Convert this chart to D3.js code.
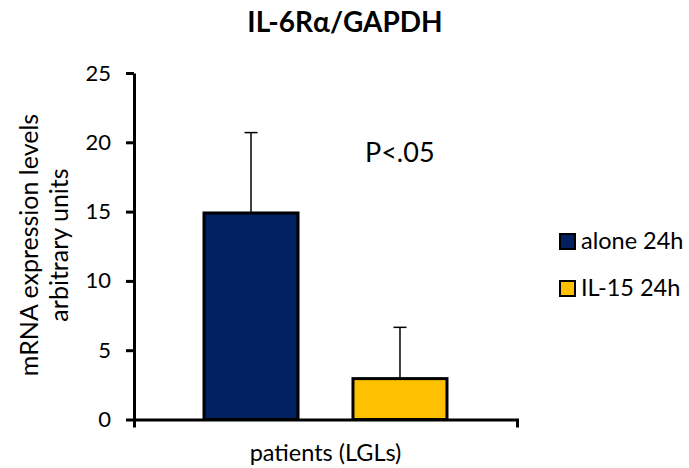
<!DOCTYPE html>
<html>
<head>
<meta charset="utf-8">
<script src="https://cdn.jsdelivr.net/npm/d3@7"></script>
<style>
  html, body { margin: 0; padding: 0; background: #fff; }
  svg { display: block; font-family: Lato, "Open Sans", sans-serif; }
</style>
</head>
<body>
<svg id="chart" width="689" height="468"></svg>
<script>
const title = "IL-6Rα/GAPDH";
const categories = ["patients (LGLs)"];
const seriesNames = ["alone 24h", "IL-15 24h"];
const seriesColors = ["#002060", "#FFC000"];
const meanValues = [14.9, 2.95];
const errorValues = [5.8, 3.7];
const yTicks = [0, 5, 10, 15, 20, 25];
const yLabelLines = ["mRNA expression levels", "arbitrary units"];
const annotation = "P<.05";

const svg = d3.select("#chart");
const plot = { left: 134, right: 517, top: 73, bottom: 419.5 };

const y = d3.scaleLinear().domain([0, 25]).range([plot.bottom, plot.top]);
const xCat = d3.scaleBand().domain(categories).range([plot.left, plot.right]);
const xSer = d3.scaleBand().domain(seriesNames)
  .range([0, xCat.bandwidth()]).paddingInner(0.369).paddingOuter(0.47);

// Title
svg.append("text")
  .attr("x", 345).attr("y", 32)
  .attr("text-anchor", "middle")
  .attr("font-weight", "bold")
  .attr("font-size", 28)
  .text(title);

// Bars
const g = svg.append("g").attr("transform", `translate(${xCat(categories[0])},0)`);
seriesNames.forEach((s, i) => {
  const bx = xSer(s), bw = xSer.bandwidth();
  const cx = bx + bw / 2;
  g.append("line")
    .attr("x1", cx).attr("x2", cx)
    .attr("y1", y(meanValues[i])).attr("y2", y(meanValues[i] + errorValues[i]))
    .attr("stroke", "#000").attr("stroke-width", 1.5);
  g.append("line")
    .attr("x1", cx - 6.5).attr("x2", cx + 6.5)
    .attr("y1", y(meanValues[i] + errorValues[i])).attr("y2", y(meanValues[i] + errorValues[i]))
    .attr("stroke", "#000").attr("stroke-width", 1.5);
  g.append("rect")
    .attr("x", bx).attr("width", bw)
    .attr("y", y(meanValues[i])).attr("height", y(0) - y(meanValues[i]))
    .attr("fill", seriesColors[i])
    .attr("stroke", "#000").attr("stroke-width", 3);
});

// Y axis
const yAxis = svg.append("g")
  .attr("transform", `translate(${plot.left},0)`)
  .call(d3.axisLeft(y).tickValues(yTicks).tickSize(8).tickSizeOuter(0).tickPadding(15));
yAxis.selectAll("path, line").attr("stroke", "#000").attr("stroke-width", 3);
yAxis.selectAll("text").attr("font-size", 22).attr("fill", "#000")
  .attr("font-family", "Lato, sans-serif");

// X axis
const xAxis = svg.append("g")
  .attr("transform", `translate(0,${plot.bottom})`)
  .call(d3.axisBottom(xCat).tickSizeInner(0).tickSizeOuter(8).tickPadding(25));
xAxis.select(".domain").attr("stroke", "#000").attr("stroke-width", 3).attr("fill", "none");
xAxis.selectAll(".tick line").remove();
xAxis.selectAll("text").attr("font-size", 23.5).attr("fill", "#000")
  .attr("font-family", "Lato, sans-serif");

// Y label
const yl = svg.append("text")
  .attr("transform", "translate(0,245) rotate(-90)")
  .attr("text-anchor", "middle")
  .attr("font-size", 25);
yl.append("tspan").attr("x", 0).attr("y", 38).text(yLabelLines[0]);
yl.append("tspan").attr("x", 0).attr("y", 68).text(yLabelLines[1]);

// Annotation
svg.append("text")
  .attr("x", 365).attr("y", 162)
  .attr("font-size", 27)
  .text(annotation);

// Legend
const legY = [234, 281];
seriesNames.forEach((s, i) => {
  svg.append("rect")
    .attr("x", 560).attr("y", legY[i])
    .attr("width", 15).attr("height", 15)
    .attr("fill", seriesColors[i])
    .attr("stroke", "#000").attr("stroke-width", 2);
  svg.append("text")
    .attr("x", 581).attr("y", legY[i] + 15)
    .attr("font-size", 23.5)
    .text(s);
});
</script>
</body>
</html>
